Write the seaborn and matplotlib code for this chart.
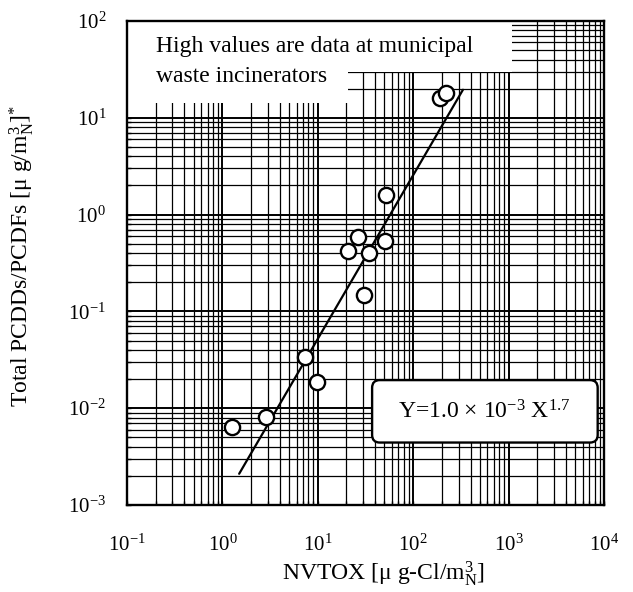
import numpy as np
import pandas as pd
import seaborn as sns
import matplotlib.pyplot as plt
from matplotlib.patches import Rectangle, FancyBboxPatch
from matplotlib.ticker import LogLocator, LogFormatterMathtext, NullFormatter

# =====
# data

nvtox = [1.25, 2.9, 7.4, 9.9, 30.7, 20.9, 26.6, 34.4, 50.6, 51.5, 191, 221]
pcdd = [0.0064, 0.0081, 0.034, 0.0185, 0.148, 0.42, 0.58, 0.40, 0.53, 1.59, 15.9, 17.9]

# regression line Y = 1.0e-3 X^1.7, end points as drawn
fit_x = [1.5, 333]
fit_y = [0.0021, 19.5]

df = pd.DataFrame({"x": nvtox, "y": pcdd})

# =====
# style

sns.set_theme(style="ticks")
plt.rcParams["font.family"] = ["Liberation Serif", "DejaVu Serif"]
plt.rcParams["mathtext.fontset"] = "custom"
plt.rcParams["mathtext.rm"] = "Liberation Serif"
plt.rcParams["mathtext.it"] = "Liberation Serif:italic"
plt.rcParams["mathtext.bf"] = "Liberation Serif:bold"
plt.rcParams["text.color"] = "black"
plt.rcParams["axes.labelcolor"] = "black"
plt.rcParams["xtick.color"] = "black"
plt.rcParams["ytick.color"] = "black"

fig, ax = plt.subplots(figsize=(6.33, 5.92), dpi=100)
fig.subplots_adjust(left=0.2006, right=0.954, top=0.9645, bottom=0.147)

ax.set_xscale("log")
ax.set_yscale("log")
ax.set_xlim(1e-1, 1e4)
ax.set_ylim(1e-3, 1e2)

# log paper grid
ax.xaxis.set_major_locator(LogLocator(base=10, numticks=10))
ax.yaxis.set_major_locator(LogLocator(base=10, numticks=10))
ax.xaxis.set_minor_locator(LogLocator(base=10, subs=np.arange(2, 10), numticks=20))
ax.yaxis.set_minor_locator(LogLocator(base=10, subs=np.arange(2, 10), numticks=20))
ax.xaxis.set_major_formatter(LogFormatterMathtext())
ax.yaxis.set_major_formatter(LogFormatterMathtext())
ax.xaxis.set_minor_formatter(NullFormatter())
ax.yaxis.set_minor_formatter(NullFormatter())
ax.grid(True, which="major", color="black", linewidth=1.4)
ax.grid(True, which="minor", color="black", linewidth=0.9)
ax.set_axisbelow(True)

ax.tick_params(which="both", direction="in", length=3, width=1, color="black")
ax.tick_params(axis="x", which="major", pad=21, labelsize=15)
ax.tick_params(axis="y", which="major", pad=15, labelsize=15)

for s in ax.spines.values():
    s.set_color("black")
    s.set_linewidth(1.7)

# white patches where the note sits on the paper
ax.add_patch(Rectangle((0, 0.895), 0.807, 0.105, transform=ax.transAxes,
                       facecolor="white", edgecolor="none", zorder=1.5))
ax.add_patch(Rectangle((0, 0.831), 0.463, 0.07, transform=ax.transAxes,
                       facecolor="white", edgecolor="none", zorder=1.5))
ax.text(0.061, 0.936, "High values are data at municipal", transform=ax.transAxes,
        fontsize=17, va="baseline", ha="left", zorder=3)
ax.text(0.061, 0.874, "waste incinerators", transform=ax.transAxes,
        fontsize=17, va="baseline", ha="left", zorder=3)

# fit line and points
sns.lineplot(x=fit_x, y=fit_y, color="black", linewidth=1.6, ax=ax, zorder=3)
sns.scatterplot(data=df, x="x", y="y", s=120, facecolor="white",
                edgecolor="black", linewidth=1.7, ax=ax, zorder=4)

# equation box
ax.add_patch(FancyBboxPatch((0.530, 0.145), 0.441, 0.097, transform=ax.transAxes,
                            boxstyle="round,pad=0.016", facecolor="white",
                            edgecolor="black", linewidth=1.7, zorder=5))
ax.text(0.75, 0.192, r"Y=1.0 $\times$ 10$^{-3}$ X$^{1.7}$", transform=ax.transAxes,
        fontsize=17, ha="center", va="center", zorder=6)

ax.set_xlabel("NVTOX [\u03bc g-Cl/m$^{3}_{\\mathrm{N}}$]", fontsize=17)
ax.set_ylabel("Total PCDDs/PCDFs [\u03bc g/m$^{3}_{\\mathrm{N}}$]$^{*}$", fontsize=17)
ax.xaxis.set_label_coords(0.537, -0.112)
ax.yaxis.set_label_coords(-0.19, 0.514)

plt.savefig("out.png", dpi=100)
